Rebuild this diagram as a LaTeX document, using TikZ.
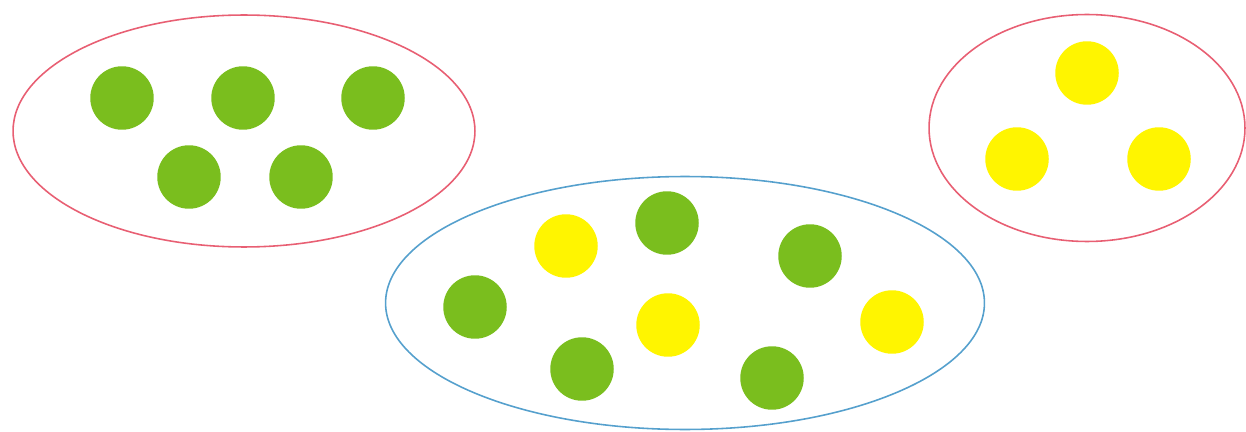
\documentclass[tikz,border=0pt]{standalone}
\usepackage{xcolor}
\usepackage{tikz}
\usetikzlibrary{shapes.geometric}

\definecolor{dotgreen}{RGB}{122,190,30}
\definecolor{dotyellow}{RGB}{255,245,0}
\definecolor{setred}{RGB}{232,95,115}
\definecolor{setblue}{RGB}{85,160,205}

\begin{document}
\begin{tikzpicture}[
  x=0.02cm, y=-0.02cm,
  dot/.style={circle, inner sep=0pt, minimum size=1.27cm},
  gdot/.style={dot, fill=dotgreen},
  ydot/.style={dot, fill=dotyellow},
  grp/.style={ellipse, draw, line width=0.9pt, inner sep=0pt}
]
\useasboundingbox (0,0) rectangle (1246,432);

% the three sets
\node[grp, draw=setred, minimum width=9.24cm, minimum height=4.64cm] (left) at (244,131) {};
\node[grp, draw=setred, minimum width=6.32cm, minimum height=4.54cm] (right) at (1087,128) {};
\node[grp, draw=setblue, minimum width=11.98cm, minimum height=5.06cm] (mid) at (685,303) {};

% left set
\node[gdot] (l1) at (122,98) {};
\node[gdot] (l2) at (243,98) {};
\node[gdot] (l3) at (373,98) {};
\node[gdot] (l4) at (189,177) {};
\node[gdot] (l5) at (301,177) {};

% right set
\node[ydot] (r1) at (1087,73) {};
\node[ydot] (r2) at (1017,159) {};
\node[ydot] (r3) at (1159,159) {};

% middle set
\node[ydot] (m1) at (566,246) {};
\node[gdot] (m2) at (667,223) {};
\node[gdot] (m3) at (810,256) {};
\node[gdot] (m4) at (475,307) {};
\node[ydot] (m5) at (668,325) {};
\node[ydot] (m6) at (892,322) {};
\node[gdot] (m7) at (582,369) {};
\node[gdot] (m8) at (772,378) {};

\end{tikzpicture}
\end{document}
